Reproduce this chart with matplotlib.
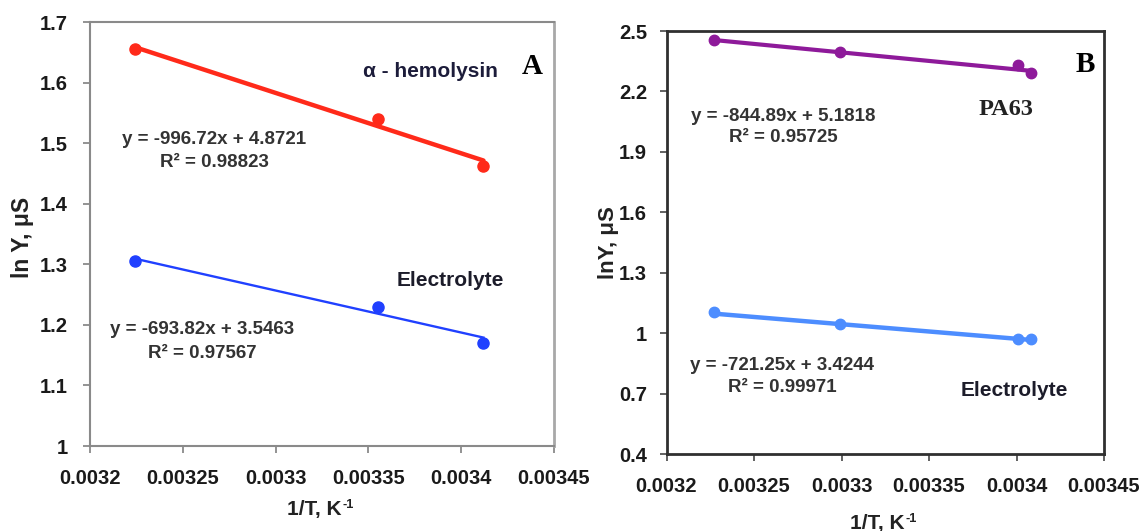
import matplotlib
matplotlib.use("Agg")
import matplotlib.pyplot as plt
import numpy as np

W, H = 1145, 531
plt.rcParams['font.family'] = ['Liberation Sans', 'DejaVu Sans']
plt.rcParams['font.weight'] = 'bold'

# ---- Panel A data ----
xA = [0.003224, 0.003355, 0.003412]
hemolysin = [1.655, 1.540, 1.463]
electrolyteA = [1.305, 1.230, 1.170]
fitA_hem = (-996.72, 4.8721)
fitA_ele = (-693.82, 3.5463)

# ---- Panel B data ----
xB = [0.003227, 0.003299, 0.003401, 0.003408]
pa63 = [2.455, 2.396, 2.329, 2.290]
electrolyteB = [1.104, 1.045, 0.973, 0.973]
fitB_pa = (-844.89, 5.1818)
fitB_ele = (-721.25, 3.4244)

xticks = [0.0032, 0.00325, 0.0033, 0.00335, 0.0034, 0.00345]
xticklabels = ['0.0032', '0.00325', '0.0033', '0.00335', '0.0034', '0.00345']
yticksA = [1.0, 1.1, 1.2, 1.3, 1.4, 1.5, 1.6, 1.7]
yticklabelsA = ['1', '1.1', '1.2', '1.3', '1.4', '1.5', '1.6', '1.7']
yticksB = [0.4, 0.7, 1.0, 1.3, 1.6, 1.9, 2.2, 2.5]
yticklabelsB = ['0.4', '0.7', '1', '1.3', '1.6', '1.9', '2.2', '2.5']

fig = plt.figure(figsize=(W / 100, H / 100), dpi=100)

def ax_at(l, t, r, b):
    return fig.add_axes([l / W, 1 - b / H, (r - l) / W, (b - t) / H])

def ftext(x, y, s, **kw):
    return fig.text(x / W, 1 - y / H, s, ha=kw.pop('ha', 'center'), va=kw.pop('va', 'center'), **kw)

def style(ax, yticks, ylabels, ylim, tick_col, ypad):
    ax.set_xlim(0.0032, 0.00345)
    ax.set_ylim(*ylim)
    ax.set_xticks(xticks)
    ax.set_xticklabels(xticklabels)
    ax.set_yticks(yticks)
    ax.set_yticklabels(ylabels)
    ax.tick_params(direction='out', length=5, width=1.3, color=tick_col,
                   labelsize=14.5, labelcolor='#1a1a1a')
    ax.tick_params(axis='x', pad=11.5)
    ax.tick_params(axis='y', pad=ypad)
    for lab in ax.get_xticklabels() + ax.get_yticklabels():
        lab.set_fontweight('bold')

def xlabel_with_sup(xc, yc, size):
    t = ftext(xc - 6, yc, '1/T, K', fontsize=size, fontweight='bold', color='#222222')
    fig.canvas.draw()
    bb = t.get_window_extent()
    fig.text((bb.x1 + 1) / W, (bb.y1 - 5) / H, '-1', fontsize=size * 0.62,
             fontweight='bold', color='#222222', ha='left', va='center')

EQ = 13.5
LBL = 15

# ---------------- Panel A ----------------
axA = ax_at(90, 22, 554, 446)
style(axA, yticksA, yticklabelsA, (1.0, 1.7), '#8a8a8a', 11)
for k, s in axA.spines.items():
    s.set_color('#8a8a8a')
    s.set_linewidth(1.5)
axA.spines['right'].set_color('#a8a8a8')
axA.spines['right'].set_linewidth(2)
xl = np.array([xA[0], xA[-1]])
axA.plot(xl, fitA_hem[0] * xl + fitA_hem[1], color='#ff2a1a', lw=3.2, solid_capstyle='round')
axA.plot(xA, hemolysin, 'o', color='#ff2a1a', ms=8)
axA.plot(xl, fitA_ele[0] * xl + fitA_ele[1], color='#2040ff', lw=1.7)
axA.plot(xA, electrolyteA, 'o', color='#2040ff', ms=8)

ftext(22.5, 237, 'ln Y, μS', rotation=90, fontsize=16.5, fontweight='bold', color='#222222')
ftext(430, 71, 'α - hemolysin', fontsize=LBL, color='#1c1c3a')
ftext(532, 66, 'A', fontsize=21, fontweight='bold', family='Liberation Serif', color='#000000')
ftext(214, 139.5, 'y = -996.72x + 4.8721', fontsize=EQ, color='#333333')
ftext(214, 162.5, 'R² = 0.98823', fontsize=EQ, color='#333333')
ftext(450, 280, 'Electrolyte', fontsize=LBL, color='#1c1c2a')
ftext(202, 330, 'y = -693.82x + 3.5463', fontsize=EQ, color='#333333')
ftext(202, 353.5, 'R² = 0.97567', fontsize=EQ, color='#333333')

# ---------------- Panel B ----------------
axB = ax_at(666.5, 31, 1104, 454)
style(axB, yticksB, yticklabelsB, (0.4, 2.5), '#555555', 9)
for k, s in axB.spines.items():
    s.set_color('#303030')
    s.set_linewidth(2)
xl = np.array([xB[0], xB[-1]])
axB.plot(xl, fitB_pa[0] * xl + fitB_pa[1], color='#8e1a9a', lw=3)
axB.plot(xB, pa63, 'o', color='#8e1a9a', ms=7.5)
axB.plot(xl, fitB_ele[0] * xl + fitB_ele[1], color='#4d8dff', lw=3.2)
axB.plot(xB, electrolyteB, 'o', color='#4d8dff', ms=7.5)

ftext(608.5, 243, 'lnY, μS', rotation=90, fontsize=16, fontweight='bold', color='#222222')
ftext(1085, 65, 'B', fontsize=21, fontweight='bold', family='Liberation Serif', color='#000000')
ftext(1006, 110, 'PA63', fontsize=17.5, fontweight='bold', family='Liberation Serif', color='#222222')
ftext(783.5, 116, 'y = -844.89x + 5.1818', fontsize=EQ, color='#333333')
ftext(783.5, 137, 'R² = 0.95725', fontsize=EQ, color='#333333')
ftext(782, 366, 'y = -721.25x + 3.4244', fontsize=EQ, color='#333333')
ftext(782, 387, 'R² = 0.99971', fontsize=EQ, color='#333333')
ftext(1014, 391, 'Electrolyte', fontsize=LBL, color='#1c1c2a')

xlabel_with_sup(320.5, 509, 15)
xlabel_with_sup(883.5, 523, 15)

fig.savefig('out.png', dpi=100, facecolor='white')
